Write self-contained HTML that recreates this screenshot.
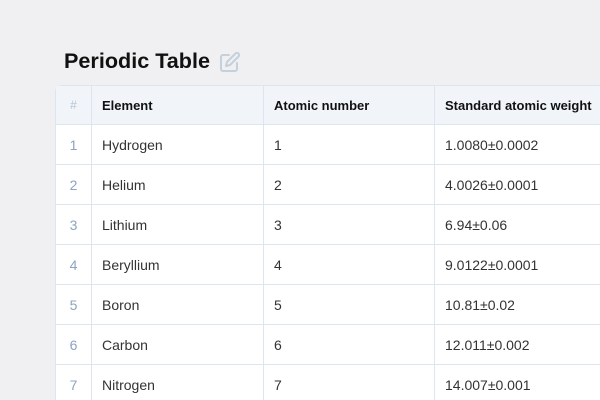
<!DOCTYPE html>
<html><head><style>
body{margin:0;width:600px;height:400px;overflow:hidden;background:#f0f0f2;font-family:"Liberation Sans",sans-serif;position:relative}
h1{position:absolute;left:64px;top:48px;margin:0;font-size:21.6px;font-weight:bold;color:#111}
.edit{position:absolute;left:219px;top:51px}
.wrap{position:absolute;left:55px;top:85px;width:545px;height:315px;overflow:hidden;border-top-left-radius:6px}
table{width:580px;table-layout:fixed;border-collapse:separate;border-spacing:0;background:#fff;border:1px solid #dde6ef;border-right:none;border-bottom:none;border-top-left-radius:6px}
td,th{height:39px;padding:0 0 0 10px;border-bottom:1px solid #dde6ef;border-right:1px solid #dde6ef;text-align:left;font-size:14px;color:#333;white-space:nowrap;box-sizing:content-box}
th{background:#f1f5fa;font-weight:bold;font-size:13px;color:#111;height:38px}
td.n,th.n{text-align:center;padding:0;color:#8fa3bf}
th.n{color:#b8c4d4;font-weight:normal;font-size:12px}
</style></head><body>
<h1>Periodic Table</h1>
<svg class="edit" width="22" height="22" viewBox="0 0 22 22" fill="none" stroke="#c5d0dd" stroke-width="2" stroke-linecap="round" stroke-linejoin="round"><path d="M10 4H4a2 2 0 0 0-2 2v12a2 2 0 0 0 2 2h12a2 2 0 0 0 2-2v-6"/><path d="M16.5 2.5a2.1 2.1 0 0 1 3 3L11 14l-4 1 1-4z"/></svg>
<div class="wrap">
<table>
<colgroup><col style="width:36px"><col style="width:172px"><col style="width:171px"><col style="width:201px"></colgroup>
<tr><th class="n">#</th><th>Element</th><th>Atomic number</th><th>Standard atomic weight</th></tr>
<tr><td class="n">1</td><td>Hydrogen</td><td>1</td><td>1.0080±0.0002</td></tr>
<tr><td class="n">2</td><td>Helium</td><td>2</td><td>4.0026±0.0001</td></tr>
<tr><td class="n">3</td><td>Lithium</td><td>3</td><td>6.94±0.06</td></tr>
<tr><td class="n">4</td><td>Beryllium</td><td>4</td><td>9.0122±0.0001</td></tr>
<tr><td class="n">5</td><td>Boron</td><td>5</td><td>10.81±0.02</td></tr>
<tr><td class="n">6</td><td>Carbon</td><td>6</td><td>12.011±0.002</td></tr>
<tr><td class="n">7</td><td>Nitrogen</td><td>7</td><td>14.007±0.001</td></tr>
</table>
</div>
</body></html>
